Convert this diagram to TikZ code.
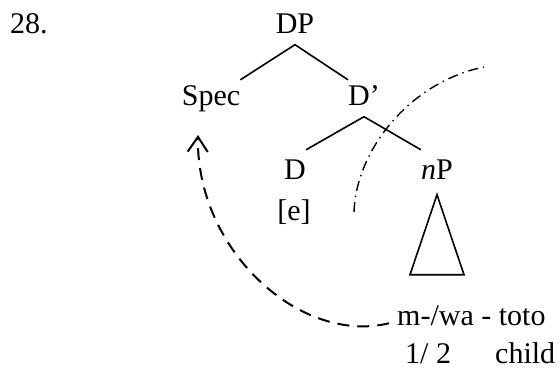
\documentclass[tikz,border=0pt]{standalone}
\usepackage{fontspec}
\setmainfont{Liberation Serif}
\usetikzlibrary{arrows.meta}
\tikzset{cat/.style={font=\fontsize{30}{36}\selectfont,inner xsep=0pt,inner ysep=4pt,text height=21pt,text depth=7.5pt,anchor=base},branch/.style={line width=1.6pt},movearc/.style={line width=2pt,dash pattern=on 12pt off 8pt,-{Straight Barb[length=15pt,width=20pt]}},cutline/.style={line width=1.4pt,dash pattern=on 10pt off 5pt on 1.4pt off 5pt}}

\begin{document}
\begin{tikzpicture}[x=1pt,y=-1pt]
\useasboundingbox (0,0) rectangle (560,368);
\node[cat,anchor=base west] (num) at (10,33) {28.};
\node[cat] (dp) at (295,33) {DP};
\node[cat] (spec) at (211,105) {Spec};
\node[cat] (dbar) at (364,105) {D’};
\node[cat,inner ysep=8pt] (d) at (295,179) {D};
\node[cat,inner ysep=8pt] (np) at (437,179) {\textit{n}P};
\node[cat] (e) at (294,220) {[e]};
\node[cat,anchor=base west,inner xsep=8pt] (gloss) at (389,325) {m-/wa - toto};
\node[cat,anchor=base west] (num2) at (405,363) {1/ 2};
\node[cat,anchor=base west] (child) at (495,363) {child};
\coordinate (landing) at (198,135);
\coordinate (cut-lo) at (354,212);
\coordinate (cut-hi) at (484,67);
\draw[branch] (spec.north east) -- (dp.south) -- (dbar.north west);
\draw[branch] (d.north east) -- (dbar.south) -- (np.north west);
\draw[branch] (np.south) -- ++(-27,80) -- ++(54,0) -- cycle;
\draw[movearc] ([yshift=-5pt]gloss.west) .. controls (300,345) and (196,250) .. (landing);
\draw[cutline] (cut-lo) .. controls (356,150) and (410,82) .. (cut-hi);
\end{tikzpicture}
\end{document}
